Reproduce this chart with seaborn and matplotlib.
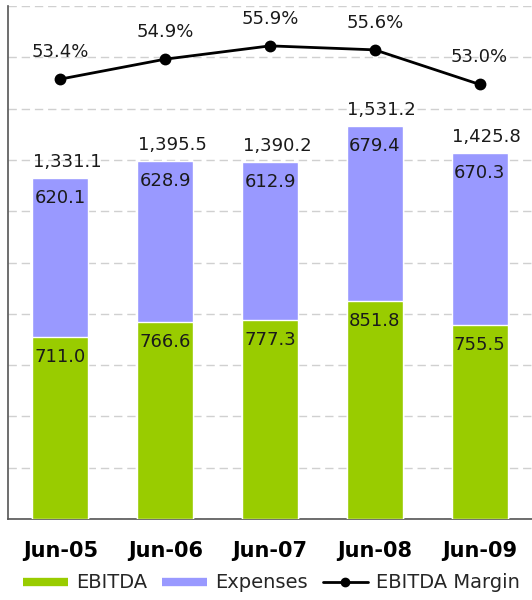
import matplotlib
matplotlib.use("Agg")
import matplotlib.pyplot as plt
import seaborn as sns
import pandas as pd
from matplotlib.lines import Line2D

categories = ["Jun-05", "Jun-06", "Jun-07", "Jun-08", "Jun-09"]
ebitda = [711.0, 766.6, 777.3, 851.8, 755.5]
expenses = [620.1, 628.9, 612.9, 679.4, 670.3]
totals = [1331.1, 1395.5, 1390.2, 1531.2, 1425.8]
margin = [53.4, 54.9, 55.9, 55.6, 53.0]

GREEN = "#99CC00"
PURPLE = "#9999FF"

sns.set_theme(style="white")
plt.rcParams["font.family"] = ["DejaVu Sans"]

df = pd.DataFrame({"cat": categories, "ebitda": ebitda,
                   "expenses": expenses, "total": totals, "margin": margin})

fig = plt.figure(figsize=(5.32, 6.0), dpi=100)
ax = fig.add_axes([8/532, 81/600, 524/532, 513/600])

sns.barplot(data=df, x="cat", y="total", color=PURPLE, saturation=1,
            width=0.534, edgecolor="white", linewidth=1, ax=ax, zorder=3)
sns.barplot(data=df, x="cat", y="ebitda", color=GREEN, saturation=1,
            width=0.534, edgecolor="white", linewidth=1, ax=ax, zorder=3)

ax.set_ylim(0, 2000)
ax.set_xlim(-0.5, 4.5)
ax.set_yticks(range(0, 2001, 200))
ax.set_yticklabels([])
ax.tick_params(axis="y", length=0)
ax.yaxis.grid(True, color="#d0d0d0", linestyle=(0, (6, 3.5)), linewidth=1)
ax.set_axisbelow(True)
ax.set_xlabel("")
ax.set_ylabel("")
for s in ["top", "right"]:
    ax.spines[s].set_visible(False)
for s in ["left", "bottom"]:
    ax.spines[s].set_color("#555555")
    ax.spines[s].set_linewidth(1.2)
ax.tick_params(axis="x", length=0, pad=16)
for lbl in ax.get_xticklabels():
    lbl.set_fontweight("bold")
    lbl.set_fontsize(15)
    lbl.set_color("black")

for i in range(len(categories)):
    ax.annotate(f"{ebitda[i]:.1f}", (i, ebitda[i]), xytext=(0, -14.4),
                textcoords="offset points", ha="center", va="center",
                fontsize=13, color="#1a1a1a", zorder=5)
    ax.annotate(f"{expenses[i]:.1f}", (i, totals[i]), xytext=(0, -14.4),
                textcoords="offset points", ha="center", va="center",
                fontsize=13, color="#1a1a1a", zorder=5)
    ax.annotate(f"{totals[i]:,.1f}", (i, totals[i]), xytext=(5, 11.5),
                textcoords="offset points", ha="center", va="center",
                fontsize=13, color="#1a1a1a", zorder=5)

ax2 = ax.twinx()
sns.pointplot(data=df, x="cat", y="margin", color="black", markers="o",
              markersize=7, linewidth=2.0, ax=ax2, zorder=4)
ax2.set_ylim(20.3, 58.9)
ax2.set_xlim(-0.5, 4.5)
ax2.set_yticks([])
ax2.set_ylabel("")
ax2.set_xlabel("")
for s in ax2.spines.values():
    s.set_visible(False)
for i in range(len(categories)):
    ax2.annotate(f"{margin[i]:.1f}%", (i, margin[i]), xytext=(0, 19.4),
                 textcoords="offset points", ha="center", va="center",
                 fontsize=13, color="#1a1a1a")

handles = [
    Line2D([0], [0], color=GREEN, lw=6, solid_capstyle="butt"),
    Line2D([0], [0], color=PURPLE, lw=6, solid_capstyle="butt"),
    Line2D([0], [0], color="black", lw=2.0, marker="o", markersize=6),
]
fig.legend(handles, ["EBITDA", "Expenses", "EBITDA Margin"], loc="center",
           bbox_to_anchor=(0.51, 1 - 583/600), ncol=3, frameon=False,
           fontsize=14, handlelength=2.3, handletextpad=0.4,
           columnspacing=0.8)

fig.savefig("out.png", dpi=100)
